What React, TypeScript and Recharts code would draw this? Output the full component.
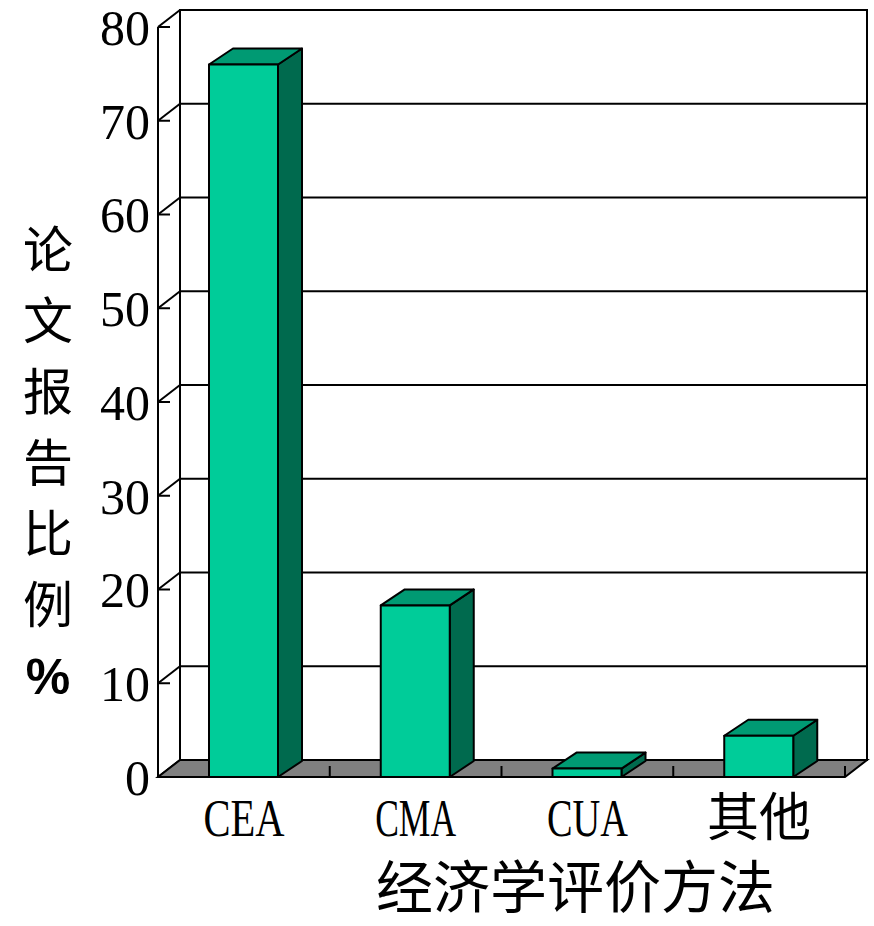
import React from 'react';
import { BarChart, Bar, XAxis, YAxis, CartesianGrid, ReferenceArea } from 'recharts';

const categories = ['CEA', 'CMA', 'CUA', '其他'];
const shares = [76, 18.3, 0.9, 4.4];
const yTicks = [0, 10, 20, 30, 40, 50, 60, 70, 80];
const yTitle = ['论', '文', '报', '告', '比', '例'];
const xTitle = '经济学评价方法';

const data = categories.map((name, i) => ({ name, value: shares[i] }));

// depth of the "3D" walls and boxes
const WALL_DX = 22;
const WALL_DY = 17;
const BOX_DX = 24;
const BOX_DY = 16;

const SERIF = "'Liberation Serif', 'Noto Sans CJK SC', serif";

const Box3D = (props: any) => {
  const { x, y, width: w, height: h } = props;
  if (w == null || h == null) return null;
  const side = `${x + w},${y} ${x + w + BOX_DX},${y - BOX_DY} ${x + w + BOX_DX},${y + h - BOX_DY} ${x + w},${y + h}`;
  const top = `${x},${y} ${x + BOX_DX},${y - BOX_DY} ${x + w + BOX_DX},${y - BOX_DY} ${x + w},${y}`;
  return (
    <g stroke="#000" strokeWidth={2} strokeLinejoin="round">
      <polygon points={side} fill="#006a4e" />
      <polygon points={top} fill="#009a73" />
      <rect x={x} y={y} width={w} height={h} fill="#00cc99" />
    </g>
  );
};

const Walls = (props: any) => {
  const { x, y, width: w, height: h } = props;
  const floor = `${x},${y + h} ${x + WALL_DX},${y + h - WALL_DY} ${x + w + WALL_DX},${y + h - WALL_DY} ${x + w},${y + h}`;
  const n = categories.length;
  return (
    <g stroke="#000" strokeWidth={2} fill="none">
      <rect x={x + WALL_DX} y={y - WALL_DY} width={w} height={h} />
      <polygon points={floor} fill="#808080" />
      <line x1={x} y1={y} x2={x} y2={y + h} />
      {Array.from({ length: n }, (_, i) => {
        const cx = x + (w * (i + 1)) / n;
        return <line key={i} x1={cx} y1={y + h} x2={cx} y2={y + h - 11} />;
      })}
    </g>
  );
};

const gridLine = (p: any) => {
  const { x1, y1, x2 } = p;
  return (
    <g key={`g-${y1}`} stroke="#000" strokeWidth={2}>
      <line x1={x1 + WALL_DX} y1={y1 - WALL_DY} x2={x2 + WALL_DX} y2={y1 - WALL_DY} />
      <line x1={x1} y1={y1} x2={x1 + WALL_DX} y2={y1 - WALL_DY} />
      <line x1={x1} y1={y1} x2={x1 + 12} y2={y1} />
    </g>
  );
};

const XTick = (props: any) => {
  const { x, y, payload } = props;
  const label = String(payload.value);
  const latin = /^[A-Za-z]+$/.test(label);
  return (
    <text
      x={x}
      y={y}
      dy="0.71em"
      textAnchor="middle"
      fontFamily={SERIF}
      fontSize={52}
      fill="#000"
      {...(latin ? { textLength: label.length * 27, lengthAdjust: 'spacingAndGlyphs' } : {})}
    >
      {label}
    </text>
  );
};

const XTitle = (props: any) => {
  const vb = props.viewBox;
  return (
    <text
      x={vb.x + vb.width / 2 + 74}
      y={vb.y + vb.height - 18}
      textAnchor="middle"
      fontFamily="'Noto Sans CJK SC', sans-serif"
      fontSize={57}
      fill="#000"
    >
      {xTitle}
    </text>
  );
};

const YTitle = () => (
  <text x={48} y={250} textAnchor="middle" fontFamily="'Noto Sans CJK SC', sans-serif" fontSize={50} fill="#000">
    {yTitle.map((ch, i) => (
      <tspan key={i} x={48} y={250 + i * 71} dy="0.35em">
        {ch}
      </tspan>
    ))}
    <tspan x={48} y={250 + yTitle.length * 71} dy="0.35em" fontWeight="bold" fontFamily="'Liberation Sans', sans-serif">
      %
    </tspan>
  </text>
);

export default function App() {
  return (
    <div style={{ position: 'absolute', left: 0, top: 0, background: '#fff' }}>
      <BarChart
        width={874}
        height={926}
        data={data}
        margin={{ top: 27, right: 29, left: 0, bottom: 0 }}
        barSize={69}
      >
        <ReferenceArea y1={0} y2={80} shape={<Walls />} ifOverflow="visible" />
        <CartesianGrid vertical={false} horizontal={gridLine} />
        <XAxis
          dataKey="name"
          height={149}
          axisLine={false}
          tickLine={false}
          tickSize={0}
          tickMargin={22}
          tick={<XTick />}
          label={<XTitle />}
        />
        <YAxis
          width={158}
          domain={[0, 80]}
          ticks={yTicks}
          interval={0}
          axisLine={false}
          tickLine={false}
          tickSize={0}
          tickMargin={8}
          tick={{ fontSize: 50, fill: '#000', fontFamily: SERIF }}
          label={<YTitle />}
        />
        <Bar dataKey="value" shape={<Box3D />} isAnimationActive={false} />
      </BarChart>
    </div>
  );
}
